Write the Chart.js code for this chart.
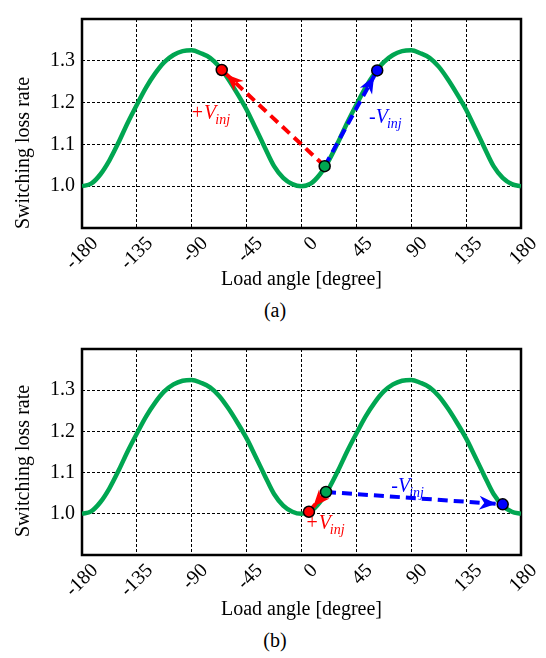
<!DOCTYPE html>
<html>
<head>
<meta charset="utf-8">
<script src="https://cdn.jsdelivr.net/npm/chart.js@4.4.1/dist/chart.umd.min.js"></script>
<style>
  html, body { margin: 0; padding: 0; background: #fff; }
  body { width: 546px; height: 658px; position: relative; overflow: hidden;
         font-family: "Liberation Serif", "Times New Roman", serif; color: #000; }
  .panel { position: absolute; left: 0; width: 546px; height: 296px; }
  #panelA { top: 0; }
  #panelB { top: 330px; }
  .ylab { position: absolute; left: 22px; transform: translate(-50%, -50%) rotate(-90deg);
          white-space: nowrap; font-size: 20px; }
  .caption { position: absolute; left: 275px; transform: translate(-50%, -50%); font-size: 20px; }
</style>
</head>
<body>
<div class="panel" id="panelA"><canvas id="chartA" width="546" height="296"></canvas></div>
<div class="panel" id="panelB"><canvas id="chartB" width="546" height="296"></canvas></div>
<div class="ylab" style="top:153px">Switching loss rate</div>
<div class="ylab" style="top:461px">Switching loss rate</div>
<div class="caption" style="top:310px">(a)</div>
<div class="caption" style="top:640px">(b)</div>

<script>
// load angle [deg] and switching loss rate
const loadAngle = [
  -180, -172.5, -165, -157.5, -150, -142.5, -135, -127.5, -120, -112.5, -105, -97.5,
  -90, -82.5, -75, -67.5, -60, -52.5, -45, -37.5, -30, -22.5, -15, -7.5,
  0, 7.5, 15, 22.5, 30, 37.5, 45, 52.5, 60, 67.5, 75, 82.5,
  90, 97.5, 105, 112.5, 120, 127.5, 135, 142.5, 150, 157.5, 165, 172.5, 180
];
const lossRate = [
  1.000, 1.006, 1.028, 1.062, 1.105, 1.152, 1.195, 1.236, 1.270, 1.297, 1.314, 1.323,
  1.325, 1.318, 1.307, 1.286, 1.256, 1.221, 1.183, 1.138, 1.092, 1.048, 1.020, 1.005,
  1.000, 1.006, 1.028, 1.062, 1.105, 1.152, 1.195, 1.236, 1.270, 1.297, 1.314, 1.323,
  1.325, 1.318, 1.307, 1.286, 1.256, 1.221, 1.183, 1.138, 1.092, 1.048, 1.020, 1.005, 1.000
];

const xTicks = [-180, -135, -90, -45, 0, 45, 90, 135, 180];
const yTicks = [1.0, 1.1, 1.2, 1.3];

// operating point, +Vinj point, -Vinj point  [angle, rate]
const opA = [19, 1.048];
const plusA = [-65.4, 1.278];
const minusA = [62.1, 1.277];
const opB = [20.1, 1.053];
const plusB = [6.1, 1.005];
const minusB = [165, 1.023];

// label anchors [angle, rate]
const plusLabelA = [-90, 1.16];
const minusLabelA = [55.4, 1.152];
const plusLabelB = [4, 0.962];
const minusLabelB = [73.6, 1.053];

const GREEN = '#00a651';
const RED = '#ff0000';
const BLUE = '#0000ff';

Chart.defaults.font.family = "'Liberation Serif', 'Times New Roman', serif";
Chart.defaults.font.size = 20;
Chart.defaults.color = '#000';

const pt = a => ({ x: a[0], y: a[1] });

// frame round the plot area
const framePlugin = {
    id: 'frame',
    beforeDatasetsDraw(chart) {
        const { ctx, chartArea: a } = chart;
        ctx.save();
        ctx.strokeStyle = '#000';
        ctx.lineWidth = 2.5;
        ctx.strokeRect(a.left, a.top, a.right - a.left, a.bottom - a.top);
        ctx.restore();
    }
};

// arrow heads on the dashed vector lines
const arrowPlugin = {
    id: 'arrowHeads',
    afterDatasetDraw(chart, args) {
        const ds = chart.data.datasets[args.index];
        if (!ds.arrow) return;
        const pts = args.meta.data;
        const p0 = pts[0], p1 = pts[1];
        const dx = p1.x - p0.x, dy = p1.y - p0.y;
        const len = Math.hypot(dx, dy);
        const ux = dx / len, uy = dy / len;
        const tipX = p1.x - ux * 6.5, tipY = p1.y - uy * 6.5;
        const L = 17, W = 7, notch = 5;
        const bx = tipX - ux * L, by = tipY - uy * L;
        const ctx = chart.ctx;
        ctx.save();
        ctx.fillStyle = ds.borderColor;
        ctx.beginPath();
        ctx.moveTo(tipX, tipY);
        ctx.lineTo(bx - uy * W, by + ux * W);
        ctx.lineTo(tipX - ux * (L - notch), tipY - uy * (L - notch));
        ctx.lineTo(bx + uy * W, by - ux * W);
        ctx.closePath();
        ctx.fill();
        ctx.restore();
    }
};

// +V_inj / -V_inj labels
const labelPlugin = {
    id: 'vinjLabels',
    afterDatasetsDraw(chart, args, opts) {
        const { ctx, scales: { x, y } } = chart;
        const fam = "'Liberation Serif', 'Times New Roman', serif";
        opts.items.forEach(item => {
            let px = x.getPixelForValue(item.at[0]);
            const py = y.getPixelForValue(item.at[1]);
            ctx.save();
            ctx.fillStyle = item.color;
            ctx.textBaseline = 'alphabetic';
            ctx.textAlign = 'left';
            ctx.font = `20px ${fam}`;
            ctx.fillText(item.sign, px, py);
            px += ctx.measureText(item.sign).width + (item.sign === '+' ? 1 : 0);
            ctx.font = `italic 20px ${fam}`;
            ctx.fillText('V', px, py);
            px += ctx.measureText('V').width - 1;
            ctx.font = `italic 14px ${fam}`;
            ctx.fillText('inj', px, py + 5);
            ctx.restore();
        });
    }
};

function makeChart(canvasId, op, plus, minus, plusLabel, minusLabel, padTop, axisHeight) {
    return new Chart(document.getElementById(canvasId), {
        type: 'line',
        data: {
            datasets: [
                {
                    // markers (index 0 is painted last, on top)
                    data: [pt(plus), pt(minus), pt(op)],
                    showLine: false,
                    pointRadius: 5.5,
                    pointBorderWidth: 1.5,
                    pointBorderColor: '#000',
                    pointBackgroundColor: [RED, BLUE, GREEN]
                },
                {
                    data: [pt(op), pt(plus)],
                    arrow: true,
                    borderColor: RED,
                    borderWidth: 4,
                    borderDash: [10, 6],
                    pointRadius: 0
                },
                {
                    data: [pt(op), pt(minus)],
                    arrow: true,
                    borderColor: BLUE,
                    borderWidth: 4,
                    borderDash: [10, 6],
                    pointRadius: 0
                },
                {
                    data: loadAngle.map((a, i) => ({ x: a, y: lossRate[i] })),
                    borderColor: GREEN,
                    borderWidth: 4.5,
                    pointRadius: 0,
                    cubicInterpolationMode: 'monotone'
                }
            ]
        },
        options: {
            responsive: false,
            animation: false,
            layout: { padding: { top: padTop, right: 25, bottom: 4, left: 0 } },
            plugins: {
                legend: { display: false },
                tooltip: { enabled: false },
                vinjLabels: {
                    items: [
                        { at: plusLabel, sign: '+', color: RED },
                        { at: minusLabel, sign: '-', color: BLUE }
                    ]
                }
            },
            scales: {
                x: {
                    type: 'linear',
                    min: -180,
                    max: 180,
                    afterBuildTicks: s => { s.ticks = xTicks.map(v => ({ value: v })); },
                    afterFit: s => { s.height = axisHeight; },
                    grid: { color: '#000', lineWidth: 1, drawTicks: false },
                    border: { display: false, dash: [3, 2] },
                    ticks: {
                        autoSkip: false,
                        minRotation: 45,
                        maxRotation: 45,
                        labelOffset: 13,
                        padding: 4
                    },
                    title: {
                        display: true,
                        text: 'Load angle [degree]',
                        padding: { top: 0, bottom: 0 }
                    }
                },
                y: {
                    min: 0.9,
                    max: 1.4,
                    afterBuildTicks: s => { s.ticks = yTicks.map(v => ({ value: v })); },
                    afterFit: s => { s.width = 82; },
                    grid: { color: '#000', lineWidth: 1, drawTicks: false },
                    border: { display: false, dash: [3, 2] },
                    ticks: {
                        padding: 7,
                        callback: v => v.toFixed(1)
                    }
                }
            }
        },
        plugins: [framePlugin, arrowPlugin, labelPlugin]
    });
}

makeChart('chartA', opA, plusA, minusA, plusLabelA, minusLabelA, 5, 64);
makeChart('chartB', opB, plusB, minusB, plusLabelB, minusLabelB, 6, 67);
</script>
</body>
</html>
